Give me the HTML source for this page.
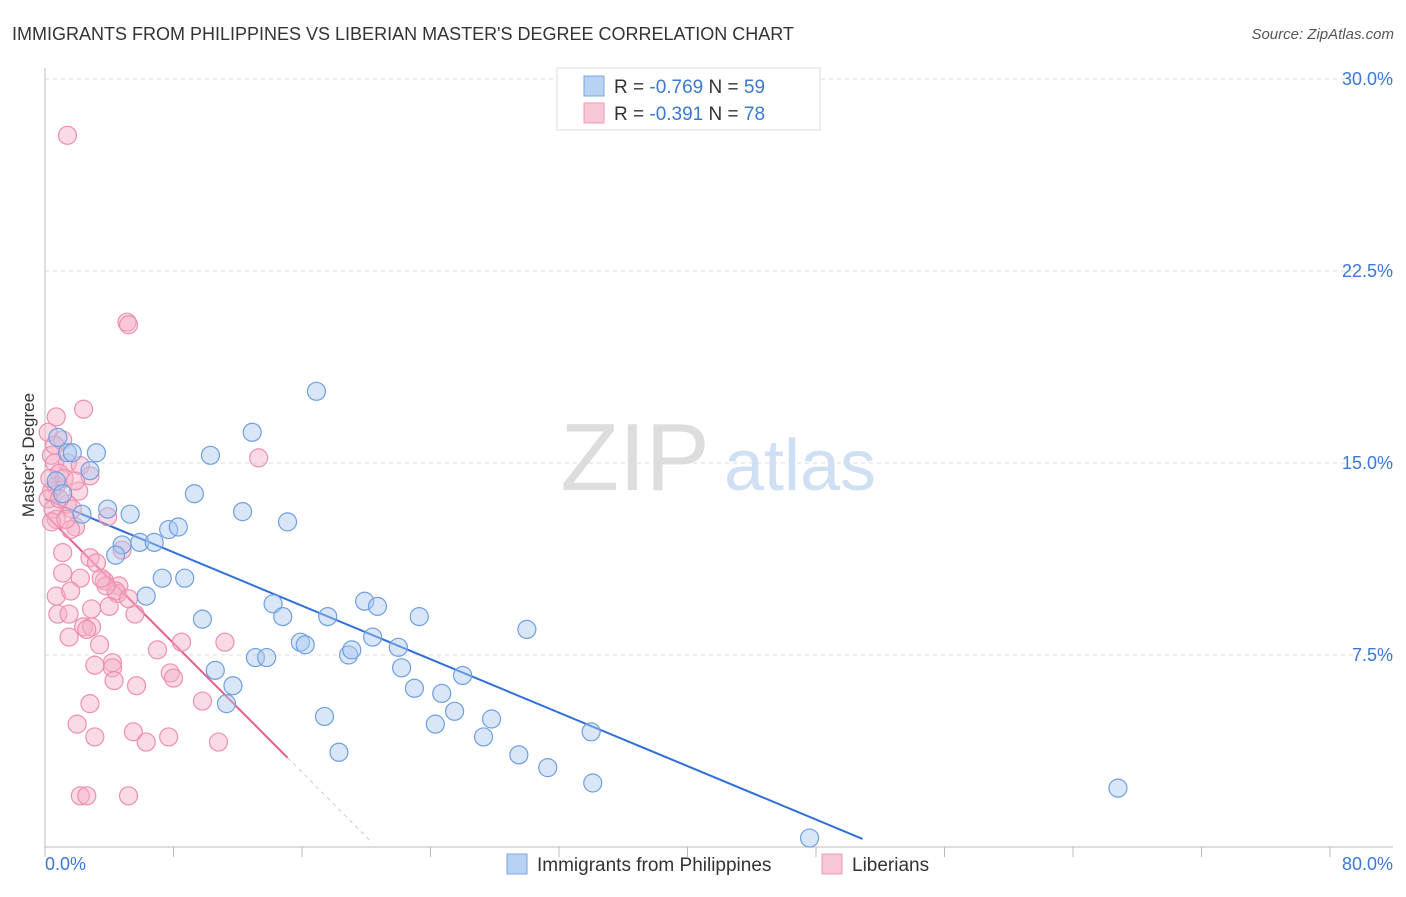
<!DOCTYPE html>
<html><head><meta charset="utf-8"><style>
body{margin:0;background:#fff;font-family:"Liberation Sans",sans-serif;}
svg text{font-family:"Liberation Sans",sans-serif;}
</style></head><body>
<svg id="chart" width="1406" height="892" viewBox="0 0 1406 892">
<text x="12" y="40" font-size="18" fill="#333">IMMIGRANTS FROM PHILIPPINES VS LIBERIAN MASTER'S DEGREE CORRELATION CHART</text>
<text x="1394" y="39" font-size="15" fill="#555" text-anchor="end" font-style="italic">Source: ZipAtlas.com</text>
<text x="635" y="490" font-size="96" fill="#ddd" font-family="Liberation Serif" text-anchor="middle">ZIP</text>
<text x="800" y="490" font-size="72" fill="#cfe0f4" text-anchor="middle">atlas</text>
<g id="grid"></g><g id="axes"></g><g id="lines"></g><g id="points"></g>
<text x="34" y="455" font-size="17" fill="#333" text-anchor="middle" transform="rotate(-90 34 455)">Master's Degree</text>
<g>
<rect x="557" y="68" width="263" height="62" fill="#fff" stroke="#ddd"/>
<rect x="584" y="76" width="20" height="20" fill="#b8d2f4" stroke="#7aa6e0"/>
<rect x="584" y="103" width="20" height="20" fill="#f9c6d6" stroke="#ee9ab8"/>
<text x="614" y="93" font-size="19" fill="#333">R = <tspan fill="#3a78d4">-0.769</tspan>   N = <tspan fill="#3a78d4">59</tspan></text>
<text x="614" y="120" font-size="19" fill="#333">R = <tspan fill="#3a78d4">-0.391</tspan>   N = <tspan fill="#3a78d4">78</tspan></text>
</g>
<g>
<rect x="507" y="854" width="20" height="20" fill="#b8d2f4" stroke="#7aa6e0"/>
<text x="537" y="871" font-size="19" fill="#333">Immigrants from Philippines</text>
<rect x="822" y="854" width="20" height="20" fill="#f9c6d6" stroke="#ee9ab8"/>
<text x="852" y="871" font-size="19" fill="#333">Liberians</text>
</g>
</svg>
<script>
const xTickLabels=["0.0%","80.0%"];
const yTicks=[7.5,15,22.5,30];
const yTickLabels=["7.5%","15.0%","22.5%","30.0%"];
const blueX=[0.8,1.4,1.7,3.2,0.7,1.1,2.8,2.3,3.9,5.3,4.8,4.4,5.9,6.8,7.7,8.3,9.3,10.3,12.9,12.3,15.1,16.9,7.3,8.7,6.3,9.8,14.2,14.8,15.9,16.2,17.6,19.9,20.7,23.3,30.0,13.1,13.8,10.6,11.7,11.3,18.9,19.1,20.4,22.0,22.2,23.0,24.7,26.0,25.5,24.3,27.8,27.3,17.4,18.3,29.5,31.3,34.0,34.1,66.8,47.6];
const blueY=[16.0,15.4,15.4,15.4,14.3,13.8,14.7,13.0,13.2,13.0,11.8,11.4,11.9,11.9,12.4,12.5,13.8,15.3,16.2,13.1,12.7,17.8,10.5,10.5,9.8,8.9,9.5,9.0,8.0,7.9,9.0,9.6,9.4,9.0,8.5,7.4,7.4,6.9,6.3,5.6,7.5,7.7,8.2,7.8,7.0,6.2,6.0,6.7,5.3,4.8,5.0,4.3,5.1,3.7,3.6,3.1,4.5,2.5,2.3,0.35];
const pinkX=[1.4,5.1,5.2,0.7,2.4,0.2,1.1,0.4,0.6,1.4,0.9,2.2,2.8,0.4,0.7,2.1,0.2,0.5,1.4,1.7,0.7,0.4,1.9,3.9,1.6,13.3,1.1,2.8,3.2,4.8,1.1,2.2,3.7,4.6,4.5,0.7,1.6,4.4,4.0,0.8,1.5,5.6,1.5,2.4,2.9,2.6,3.4,8.5,11.2,7.0,7.8,8.0,3.1,4.2,4.2,4.3,5.7,9.8,2.8,2.0,5.5,7.7,3.1,6.3,10.8,2.2,2.6,5.2,1.2,0.6,3.8,0.9,1.9,0.3,1.3,3.5,2.9,5.2];
const pinkY=[27.8,20.5,20.4,16.8,17.1,16.2,15.9,15.3,15.0,15.0,14.6,14.9,14.5,13.9,14.1,13.9,13.6,13.2,13.4,13.2,12.8,12.7,12.5,12.9,12.4,15.2,11.5,11.3,11.1,11.6,10.7,10.5,10.4,10.2,9.9,9.8,10.0,10.0,9.4,9.1,9.1,9.1,8.2,8.6,8.6,8.5,7.9,8.0,8.0,7.7,6.8,6.6,7.1,7.2,7.0,6.5,6.3,5.7,5.6,4.8,4.5,4.3,4.3,4.1,4.1,2.0,2.0,2.0,14.4,15.7,10.2,13.6,14.3,14.4,12.8,10.5,9.3,9.7];
const blueFit=[13.6,-0.261]; // intercept, slope
const pinkFit=[13.0,-0.63];
const blueEnd=50.9, pinkSolidEnd=15.1, pinkDashEnd=20.4;

const NS="http://www.w3.org/2000/svg";
const L=45,R=1330,T=68,B=847,RG=1393;
const sx=v=>L+(R-L)*v/80;
const sy=v=>B-(B-79)*v/30;
function mk(tag,attrs,parent){const e=document.createElementNS(NS,tag);for(const k in attrs)e.setAttribute(k,attrs[k]);document.getElementById(parent).appendChild(e);return e;}
yTicks.forEach((t,i)=>{
 const g=mk('line',{x1:L,x2:RG,y1:sy(t),y2:sy(t),stroke:'#ddd','stroke-dasharray':'4,4'},'grid');
 
 
 const tx=mk('text',{x:1393,y:sy(t)+6,'font-size':18,fill:'#3a78d4','text-anchor':'end'},'axes');
 tx.textContent=yTickLabels[i];
 
 
});
let a=mk('line',{x1:L,x2:L,y1:T,y2:B,stroke:'#bbb'},'axes');


a=mk('line',{x1:L,x2:RG,y1:B,y2:B,stroke:'#bbb'},'axes');


for(let i=0;i<=10;i++){const t=mk('line',{x1:sx(i*8),x2:sx(i*8),y1:B,y2:B+10,stroke:'#bbb'},'axes');
 
 }
[[0,'start',45],[80,'end',1393]].forEach((d,i)=>{const t=mk('text',{x:d[2],y:870,'font-size':18,fill:'#3a78d4','text-anchor':d[1]},'axes');t.textContent=xTickLabels[i];
 
 });
function pts(xs,ys,fill,stroke,name){xs.forEach((x,i)=>{const c=mk('circle',{cx:sx(x),cy:sy(ys[i]),r:9,fill:fill,'fill-opacity':0.45,stroke:stroke,'stroke-width':1.2},'points');
 
 });}
pts(pinkX,pinkY,'#f5b0c6','#ee8fb0','liberian-point');
pts(blueX,blueY,'#a9c8f0','#6f9fe0','philippines-point');
let ln=mk('line',{x1:sx(0),y1:sy(blueFit[0]),x2:sx(blueEnd),y2:sy(blueFit[0]+blueFit[1]*blueEnd),stroke:'#2f6fd6','stroke-width':2},'lines');


ln=mk('line',{x1:sx(0),y1:sy(pinkFit[0]),x2:sx(pinkSolidEnd),y2:sy(pinkFit[0]+pinkFit[1]*pinkSolidEnd),stroke:'#e8608a','stroke-width':2},'lines');


ln=mk('line',{x1:sx(pinkSolidEnd),y1:sy(pinkFit[0]+pinkFit[1]*pinkSolidEnd),x2:sx(pinkDashEnd),y2:sy(pinkFit[0]+pinkFit[1]*pinkDashEnd),stroke:'#ccc','stroke-width':1,'stroke-dasharray':'4,4'},'lines');


</script>
</body></html>
